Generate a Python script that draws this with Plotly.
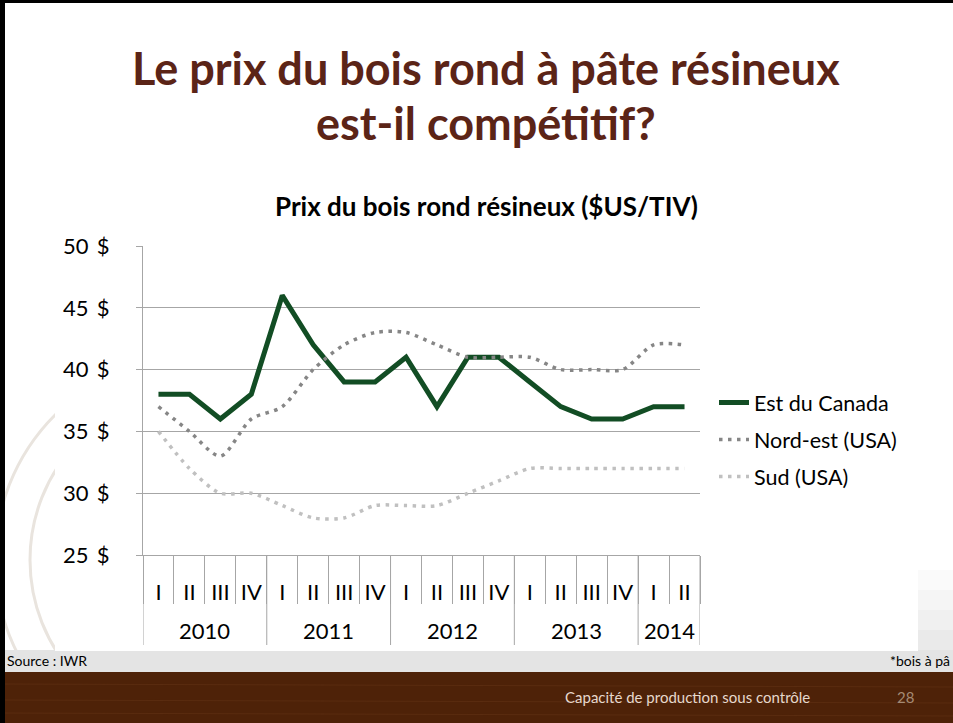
import plotly.graph_objects as go

# ---------------- data ----------------
years = ["2010"] * 4 + ["2011"] * 4 + ["2012"] * 4 + ["2013"] * 4 + ["2014"] * 2
quarters = ["I", "II", "III", "IV"] * 4 + ["I", "II"]
est_canada = [38, 38, 36, 38, 46, 42, 39, 39, 41, 37, 41, 41, 39, 37, 36, 36, 37, 37]
nord_est = [37, 35, 33, 36, 37, 40, 42, 43, 43, 42, 41, 41, 41, 40, 40, 40, 42, 42]
sud = [35, 32, 30, 30, 29, 28, 28, 29, 29, 29, 30, 31, 32, 32, 32, 32, 32, 32]
series_names = ["Est du Canada", "Nord-est (USA)", "Sud (USA)"]
y_ticks = [25, 30, 35, 40, 45, 50]

W, H = 953, 723


def px(x):
    return x / W


def py(y):
    return 1 - y / H


FONT = "Lato"
GRAY_AX = "#A6A6A6"
n = len(quarters)
xi = list(range(n))

fig = go.Figure()
fig.add_trace(go.Scatter(
    x=xi, y=est_canada, name=series_names[0], mode="lines",
    line=dict(color="#124D24", width=5), legendgroup="a"))
fig.add_trace(go.Scatter(
    x=xi, y=nord_est, name=series_names[1], mode="lines",
    line=dict(color="#868686", width=3.5, dash="3.5px,5.5px", shape="spline", smoothing=0.8),
    legendgroup="b"))
fig.add_trace(go.Scatter(
    x=xi, y=sud, name=series_names[2], mode="lines",
    line=dict(color="#C0C0C0", width=3.5, dash="3.5px,5.5px", shape="spline", smoothing=0.8),
    legendgroup="c"))

shapes = []
# faint decorative circles
for r in (205, 170, 135):
    shapes.append(dict(type="circle", xref="paper", yref="paper",
                       x0=px(200 - r), x1=px(200 + r), y0=py(560 + r), y1=py(560 - r),
                       line=dict(color="#E9E4DE", width=3), layer="below"))
# light gray strip above footer + right gradient
shapes.append(dict(type="rect", xref="paper", yref="paper", x0=0, x1=1, y0=py(672), y1=py(650),
                   fillcolor="#E4E4E4", line=dict(width=0), layer="below"))
for (y0, y1, c) in ((650, 630, "#EAEAEA"), (630, 610, "#F0F0F0"), (610, 590, "#F5F5F5"), (590, 570, "#FAFAFA")):
    shapes.append(dict(type="rect", xref="paper", yref="paper", x0=px(918), x1=1, y0=py(y0), y1=py(y1),
                       fillcolor=c, line=dict(width=0), layer="below"))
# white chart area
shapes.append(dict(type="rect", xref="paper", yref="paper", x0=px(55), x1=px(918), y0=py(651), y1=py(180),
                   fillcolor="white", line=dict(width=0), layer="below"))
# brown footer
shapes.append(dict(type="rect", xref="paper", yref="paper", x0=0, x1=1, y0=0, y1=py(672),
                   fillcolor="#4E2208", line=dict(width=0), layer="below"))
for yy in (684, 700, 713):
    shapes.append(dict(type="line", xref="paper", yref="paper", x0=0, x1=1, y0=py(yy), y1=py(yy + 3),
                       line=dict(color="#5A2C10", width=1), layer="below"))
# black border top / left
shapes.append(dict(type="rect", xref="paper", yref="paper", x0=0, x1=1, y0=py(3), y1=1,
                   fillcolor="black", line=dict(width=0), layer="below"))
shapes.append(dict(type="rect", xref="paper", yref="paper", x0=0, x1=px(5), y0=0, y1=1,
                   fillcolor="black", line=dict(width=0), layer="below"))

# year dividers and year labels computed from the data
groups = []
for i, yv in enumerate(years):
    if not groups or groups[-1][0] != yv:
        groups.append([yv, i, i])
    else:
        groups[-1][2] = i
bounds = [g[1] - 0.5 for g in groups] + [groups[-1][2] + 0.5]
for b in bounds:
    shapes.append(dict(type="line", xref="x", yref="paper", x0=b, x1=b, y0=py(645), y1=py(555),
                       line=dict(color=GRAY_AX, width=1), layer="above"))

annotations = [
    dict(text="<b>Le prix du bois rond à pâte résineux</b>", x=px(486), y=py(68),
         font=dict(family=FONT, size=45, color="#5B2417")),
    dict(text="<b>est-il compétitif?</b>", x=px(486), y=py(123),
         font=dict(family=FONT, size=45, color="#5B2417")),
    dict(text="<b>Prix du bois rond résineux ($US/TIV)</b>", x=px(486), y=py(205.5),
         font=dict(family=FONT, size=26, color="black")),
    dict(text="Source : IWR", x=px(5), y=py(660), xanchor="left",
         font=dict(family=FONT, size=14, color="black")),
    dict(text="*bois à pâ", x=px(952), y=py(660), xanchor="right",
         font=dict(family=FONT, size=14, color="black")),
    dict(text="Capacité de production sous contrôle", x=px(687), y=py(697),
         font=dict(family=FONT, size=15, color="#E6D8CC")),
    dict(text="28", x=px(905), y=py(697),
         font=dict(family=FONT, size=15, color="#A58A74")),
]
for g in groups:
    annotations.append(dict(text=g[0], xref="x", x=(g[1] + g[2]) / 2, y=py(630),
                            font=dict(family=FONT, size=22, color="black")))
for a in annotations:
    a.setdefault("xref", "paper")
    a.update(yref="paper", showarrow=False)
    a.setdefault("xanchor", "center")
    a.setdefault("yanchor", "middle")

fig.update_layout(
    width=W, height=H, autosize=False,
    margin=dict(l=0, r=0, t=0, b=0, pad=0, autoexpand=False),
    paper_bgcolor="white", plot_bgcolor="rgba(0,0,0,0)",
    font=dict(family=FONT, size=22, color="black"),
    shapes=shapes, annotations=annotations,
    showlegend=True,
    legend=dict(x=px(714), y=py(382), xanchor="left", yanchor="top",
                bgcolor="rgba(0,0,0,0)", font=dict(family=FONT, size=21.5, color="black"),
                traceorder="grouped", tracegroupgap=6, itemwidth=30),
    xaxis=dict(domain=[px(143), px(700)], range=[-0.5, n - 0.5], automargin=False,
               tickmode="array", tickvals=xi, ticktext=quarters, ticks="",
               showline=True, linecolor=GRAY_AX, linewidth=1,
               minor=dict(ticks="outside", ticklen=48, tickcolor=GRAY_AX, tickwidth=1,
                          tickmode="array", tickvals=[i - 0.5 for i in range(n + 1)]),
               showgrid=False, zeroline=False, ticklabelstandoff=18,
               tickfont=dict(family=FONT, size=22, color="black")),
    yaxis=dict(domain=[py(555), py(246)], range=[25, 50], automargin=False,
               tickmode="array", tickvals=y_ticks,
               ticktext=[f"{v}\u00a0\u2009$" for v in y_ticks],
               showline=True, linecolor=GRAY_AX, linewidth=1,
               ticks="outside", ticklen=6, tickcolor=GRAY_AX,
               gridcolor=GRAY_AX, gridwidth=1, zeroline=False,
               ticklabelstandoff=22, tickfont=dict(family=FONT, size=22, color="black")),
)

fig.write_html(
    "out.html",
    config={"displayModeBar": False},
    post_script=(
        "document.body.style.margin='0';"
        "document.body.style.overflow='hidden';"
        "document.documentElement.style.overflow='hidden';"
        "document.body.style.background='#4E2208';"
    ),
)
